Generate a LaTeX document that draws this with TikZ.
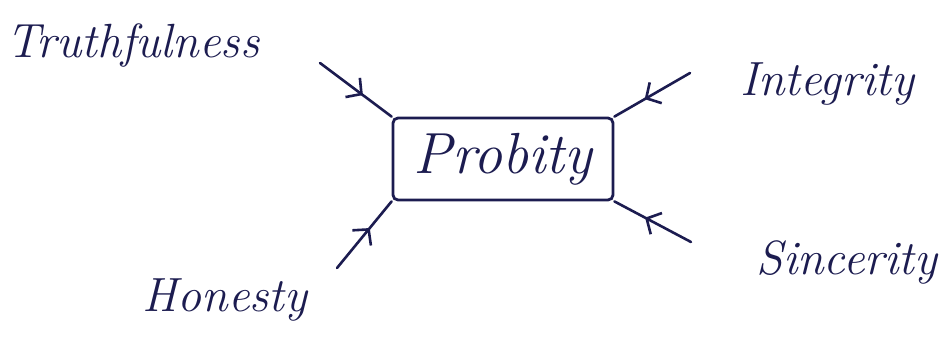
\documentclass[tikz,border=0pt]{standalone}
\usetikzlibrary{decorations.markings,arrows.meta}
\definecolor{ink}{RGB}{28,28,80}
\begin{document}
\begin{tikzpicture}[x=1pt,y=-1pt,
  hand/.style={text=ink,font=\fontsize{48}{48}\selectfont\itshape,inner sep=0pt},
  conn/.style={draw=ink,line width=2.6pt,line cap=round,
    postaction={decorate},
    decoration={markings,mark=at position 0.6 with {\arrow{Straight Barb[length=11pt,width=24pt,line width=2.6pt]}}}},
  boxst/.style={draw=ink,line width=2.8pt,rounded corners=5pt,minimum width=220pt,minimum height=82pt,
    text=ink,font=\fontsize{58}{58}\selectfont\itshape,inner sep=0pt}]
\useasboundingbox (0,0) rectangle (951,359);
\node[boxst] (box) at (503,159) {Probity};
\node[hand] (tru) at (133,45) {Truthfulness};
\node[hand] (int) at (827,84) {Integrity};
\node[hand] (hon) at (225,300) {Honesty};
\node[hand] (sin) at (847,262) {Sincerity};
\coordinate (ctl) at (320,63);
\coordinate (ctr) at (690,73);
\coordinate (cbl) at (337,268);
\coordinate (cbr) at (691,242);
\draw[conn] (ctl) -- (box.north west);
\draw[conn] (ctr) -- (box.north east);
\draw[conn] (cbl) -- (box.south west);
\draw[conn] (cbr) -- (box.south east);
\end{tikzpicture}
\end{document}
